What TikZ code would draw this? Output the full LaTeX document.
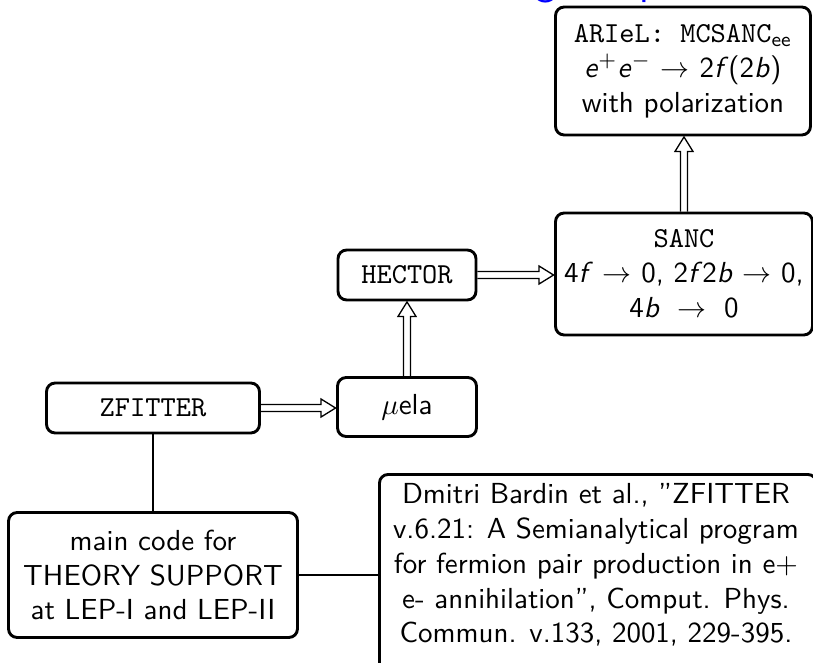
\documentclass[tikz,border=0pt]{standalone}
\usepackage{fontspec}
\usepackage{amsmath}
\usetikzlibrary{calc}
\def\px{0.345pt}
\tikzset{
  box/.style={draw, line width=1pt, rounded corners=3pt, align=center, inner sep=0pt},
  conn/.style={line width=1pt},
  dbl/.style={line width=0.45pt, line join=miter},
  ttl/.style={text=blue, font=\sffamily\fontsize{14.4}{17}\selectfont, inner sep=0pt, outer sep=0pt},
}
% horizontal fat double arrow from #1.east to #2.west
\newcommand{\harrow}[2]{%
  \draw[dbl] ($(#1.east)+(0,-3.5)$) -- ($(#1.east -| #2.west)+(-15,-3.5)$)
    -- ($(#1.east -| #2.west)+(-15,-9)$) -- ($(#1.east -| #2.west)+(-0.5,0)$)
    -- ($(#1.east -| #2.west)+(-15,9)$) -- ($(#1.east -| #2.west)+(-15,3.5)$)
    -- ($(#1.east)+(0,3.5)$);}
% vertical fat double arrow from #1.north up to #2.south
\newcommand{\varrow}[2]{%
  \draw[dbl] ($(#1.north)+(-3.5,0)$) -- ($(#1.north |- #2.south)+(-3.5,15)$)
    -- ($(#1.north |- #2.south)+(-9,15)$) -- ($(#1.north |- #2.south)+(0,0.5)$)
    -- ($(#1.north |- #2.south)+(9,15)$) -- ($(#1.north |- #2.south)+(3.5,15)$)
    -- ($(#1.north)+(3.5,0)$);}
\begin{document}
\begin{tikzpicture}[x=0.345pt, y=-0.345pt, every node/.style={font=\sffamily}]
\useasboundingbox (0,0) rectangle (813,662);
\clip (0,0) rectangle (813,662);

% cut-off title (only its lowest part is on the page)
\node[ttl, anchor=base east] (title1) at (387,-6) {From ZFITTER to SANC,};
\node[ttl, anchor=base east] (title2) at (556,-6) {these big};
\node[ttl, anchor=base] (title3) at (598,-6) {and};
\node[ttl, anchor=base west] (title4) at (639,-6) {precise};

\node[box, minimum width=255*\px, minimum height=128*\px] (ariel) at (683,71)
  {\texttt{ARIeL: MCSANC}$_{\textsf{ee}}$\\
   \textit{e}$^+$\textit{e}$^-$ $\to$ 2\textit{f}(2\textit{b})\\
   with polarization};
\node[box, minimum width=257*\px, minimum height=122*\px] (sanc) at (684,274)
  {\texttt{SANC}\\
   4\textit{f} $\to$ 0, 2\textit{f}2\textit{b} $\to$ 0,\\
   4\textit{b} $\;\to\;$ 0};
\node[box, minimum width=138*\px, minimum height=50*\px] (hector) at (407,275) {\texttt{HECTOR}};
\node[box, minimum width=139*\px, minimum height=59*\px] (muela) at (407,407) {$\mu$ela};
\node[box, minimum width=213*\px, minimum height=50*\px] (zfitter) at (153,408) {\texttt{ZFITTER}};
\node[box, minimum width=289*\px, minimum height=125*\px] (main) at (153,575)
  {main code for\\ THEORY SUPPORT\\ at LEP-I and LEP-II};
\node[box, minimum width=437*\px, minimum height=215*\px, anchor=north west] (dmitri) at (378,473) {};
\node[align=center, anchor=north, inner sep=0pt] (dmitritext) at ($(dmitri.north)+(-2,10)$)
  {Dmitri Bardin et al., "ZFITTER\\
   v.6.21: A Semianalytical program\\
   for fermion pair production in e+\\
   e- annihilation", Comput. Phys.\\
   Commun. v.133, 2001, 229-395.};

\harrow{zfitter}{muela}
\varrow{muela}{hector}
\harrow{hector}{sanc}
\varrow{sanc}{ariel}
\draw[conn] (zfitter.south) -- (main.north);
\draw[conn] (main.east) -- (main.east -| dmitri.west);
\end{tikzpicture}
\end{document}
